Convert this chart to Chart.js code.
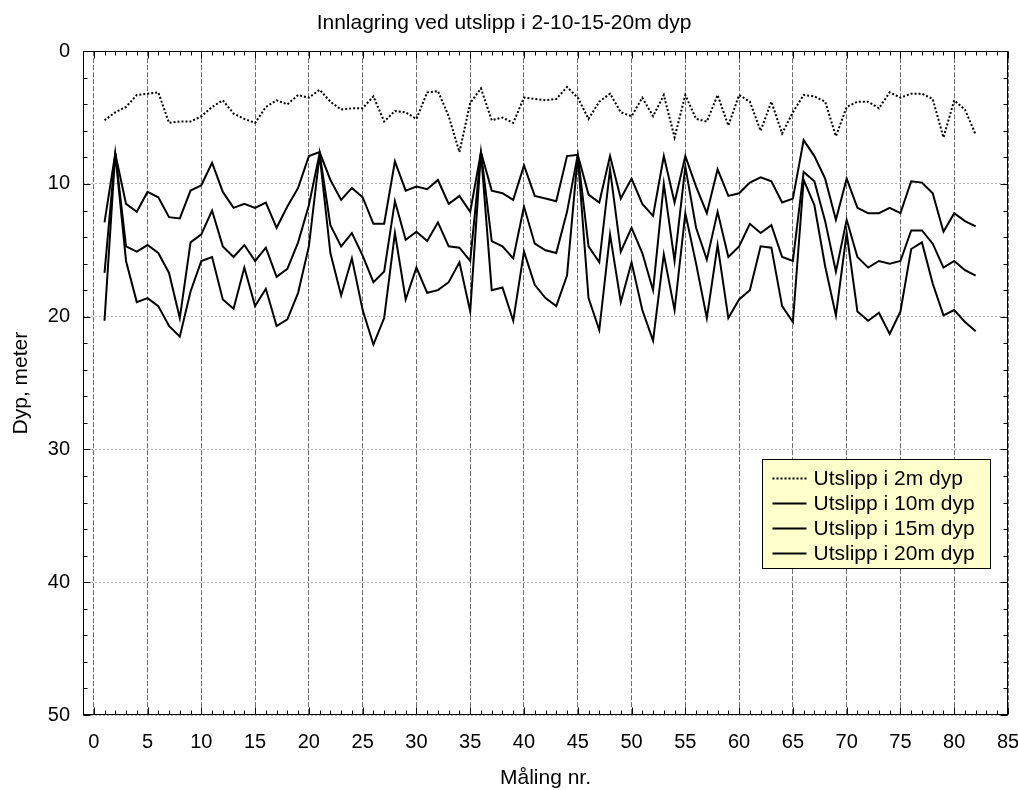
<!DOCTYPE html>
<html>
<head>
<meta charset="utf-8">
<title>Innlagring ved utslipp</title>
<script src="https://cdn.jsdelivr.net/npm/chart.js@4.4.1/dist/chart.umd.min.js"></script>
<style>
  html, body { margin: 0; padding: 0; background: #fff; }
</style>
</head>
<body>
<canvas id="chart" width="1018" height="790"></canvas>
<script>
// tekster
const tittel = 'Innlagring ved utslipp i 2-10-15-20m dyp';
const xTittel = 'Måling nr.';
const yTittel = 'Dyp, meter';
const serieNavn = ['Utslipp i 2m dyp', 'Utslipp i 10m dyp', 'Utslipp i 15m dyp', 'Utslipp i 20m dyp'];

// måling nr. (x)
const malingNr = [
  1, 2, 3, 4, 5, 6, 7, 8, 9, 10, 11, 12, 13, 14, 15, 16, 17, 18, 19, 20,
  21, 22, 23, 24, 25, 26, 27, 28, 29, 30, 31, 32, 33, 34, 35, 36, 37, 38, 39, 40,
  41, 42, 43, 44, 45, 46, 47, 48, 49, 50, 51, 52, 53, 54, 55, 56, 57, 58, 59, 60,
  61, 62, 63, 64, 65, 66, 67, 68, 69, 70, 71, 72, 73, 74, 75, 76, 77, 78, 79, 80,
  81, 82
];

// dyp i meter, lest av figuren
const utslipp2m = [
  5.2, 4.6, 4.2, 3.3, 3.2, 3.1, 5.4, 5.3, 5.3, 4.9, 4.2, 3.7, 4.7, 5.1, 5.4, 4.2, 3.7, 4.0, 3.3, 3.5,
  2.9, 3.8, 4.4, 4.3, 4.3, 3.4, 5.3, 4.5, 4.6, 5.1, 3.1, 3.0, 4.9, 7.6, 3.9, 2.8, 5.2, 5.0, 5.4, 3.5,
  3.6, 3.7, 3.6, 2.7, 3.5, 5.1, 3.8, 3.2, 4.6, 4.9, 3.5, 4.9, 3.3, 6.5, 3.3, 5.1, 5.3, 3.3, 5.6, 3.3,
  3.8, 6.0, 3.8, 6.2, 4.6, 3.3, 3.4, 3.8, 6.4, 4.2, 3.8, 3.8, 4.3, 3.1, 3.5, 3.2, 3.2, 3.6, 6.5, 3.7,
  4.4, 6.3
];
const utslipp10m = [
  12.9, 7.7, 11.5, 12.1, 10.6, 11.0, 12.5, 12.6, 10.5, 10.1, 8.4, 10.6, 11.8, 11.5, 11.8, 11.4, 13.3, 11.7, 10.3, 7.9,
  7.6, 9.7, 11.2, 10.3, 11.0, 13.0, 13.0, 8.3, 10.5, 10.2, 10.4, 9.7, 11.5, 10.9, 12.1, 7.6, 10.5, 10.7, 11.2, 8.6,
  10.9, 11.1, 11.3, 7.9, 7.8, 10.8, 11.4, 7.9, 11.1, 9.6, 11.5, 12.4, 7.9, 11.4, 7.9, 10.2, 12.2, 8.9, 10.9, 10.7,
  9.9, 9.5, 9.8, 11.4, 11.1, 6.7, 7.9, 9.6, 12.7, 9.6, 11.8, 12.2, 12.2, 11.8, 12.2, 9.8, 9.9, 10.7, 13.6, 12.2,
  12.8, 13.2
];
const utslipp15m = [
  16.7, 7.7, 14.7, 15.1, 14.6, 15.2, 16.7, 20.1, 14.4, 13.8, 12.0, 14.7, 15.5, 14.6, 15.8, 14.8, 17.0, 16.4, 14.4, 11.6,
  7.7, 13.1, 14.7, 13.7, 15.4, 17.4, 16.6, 11.3, 14.2, 13.6, 14.3, 12.9, 14.7, 14.8, 15.8, 7.6, 14.3, 14.7, 15.6, 11.7,
  14.5, 15.0, 15.2, 12.1, 7.8, 14.7, 15.9, 8.9, 15.1, 13.3, 15.2, 18.0, 10.0, 15.8, 8.7, 13.3, 15.7, 12.1, 15.5, 14.7,
  13.0, 13.7, 13.1, 15.5, 15.8, 9.1, 9.8, 12.8, 16.6, 12.7, 15.5, 16.3, 15.8, 16.0, 15.8, 13.5, 13.5, 14.5, 16.3, 15.8,
  16.5, 16.9
];
const utslipp20m = [
  20.3, 7.7, 15.8, 18.9, 18.6, 19.2, 20.7, 21.5, 18.1, 15.8, 15.5, 18.7, 19.4, 16.3, 19.2, 17.9, 20.7, 20.2, 18.2, 14.7,
  7.8, 15.2, 18.4, 15.6, 19.5, 22.1, 20.1, 13.7, 18.7, 16.3, 18.2, 18.0, 17.4, 15.9, 19.6, 7.6, 18.0, 17.8, 20.3, 15.1,
  17.6, 18.6, 19.2, 16.9, 7.9, 18.6, 21.0, 13.8, 18.9, 15.9, 19.5, 21.8, 15.3, 19.5, 12.2, 16.0, 20.1, 14.6, 20.1, 18.7,
  18.0, 14.7, 14.8, 19.2, 20.4, 9.7, 11.6, 16.2, 19.9, 13.7, 19.6, 20.3, 19.7, 21.3, 19.6, 14.9, 14.4, 17.5, 19.9, 19.5,
  20.4, 21.1
];

// akseverdier
const xTicks = [0, 5, 10, 15, 20, 25, 30, 35, 40, 45, 50, 55, 60, 65, 70, 75, 80, 85];
const yTicks = [0, 10, 20, 30, 40, 50];

const fontFam = "'Liberation Sans', Arial, Helvetica, sans-serif";
Chart.defaults.font.family = fontFam;
Chart.defaults.color = '#000';

function punkter(serie) {
  return malingNr.map((m, i) => ({ x: m, y: serie[i] }));
}

// ramme med tikker innover + egen forklaring nede til høyre
const rammePlugin = {
  id: 'ramme',
  afterDraw(chart) {
    const { ctx, chartArea: a, scales: { x, y } } = chart;
    const L = Math.round(a.left) + 0.5, R = Math.round(a.right) - 0.5;
    const T = Math.round(a.top) + 0.5, B = Math.round(a.bottom) - 0.5;
    ctx.save();
    ctx.strokeStyle = '#000';
    ctx.lineWidth = 1;
    ctx.beginPath();
    // små tikker langs x (hver 1), store ved xTicks
    for (let v = 0; v <= 85; v++) {
      const px = Math.round(x.getPixelForValue(v)) + 0.5;
      const len = xTicks.includes(v) ? 7 : 4;
      ctx.moveTo(px, B); ctx.lineTo(px, B - len);
      ctx.moveTo(px, T); ctx.lineTo(px, T + len);
    }
    // små tikker langs y (hver 2)
    for (let v = 0; v <= 50; v += 2) {
      const py = Math.round(y.getPixelForValue(v)) + 0.5;
      const len = yTicks.includes(v) ? 7 : 4;
      ctx.moveTo(L, py); ctx.lineTo(L + len, py);
      ctx.moveTo(R, py); ctx.lineTo(R - len, py);
    }
    ctx.stroke();
    ctx.strokeRect(L, T, R - L, B - T);

    // forklaring
    const bx = Math.round(a.right) - 246 + 0.5;
    const by = Math.round(a.bottom) - 256 + 0.5;
    const bw = 228, bh = 109;
    ctx.fillStyle = '#ffffcc';
    ctx.fillRect(bx, by, bw, bh);
    ctx.strokeStyle = '#000';
    ctx.lineWidth = 1;
    ctx.strokeRect(bx, by, bw, bh);
    ctx.font = '21px ' + fontFam;
    ctx.textBaseline = 'middle';
    ctx.textAlign = 'left';
    chart.data.datasets.forEach((ds, i) => {
      const cy = by + 19 + i * 25;
      ctx.save();
      ctx.strokeStyle = ds.borderColor;
      ctx.lineWidth = ds.borderWidth;
      ctx.setLineDash(ds.borderDash || []);
      ctx.beginPath();
      ctx.moveTo(bx + 10, cy);
      ctx.lineTo(bx + 44, cy);
      ctx.stroke();
      ctx.restore();
      ctx.fillStyle = '#000';
      ctx.fillText(ds.label, bx + 51, cy + 1);
    });
    ctx.restore();
  }
};

const ctx = document.getElementById('chart').getContext('2d');
new Chart(ctx, {
  type: 'line',
  data: {
    datasets: [
      { label: serieNavn[0], data: punkter(utslipp2m), borderColor: '#000', borderWidth: 2, borderDash: [2, 2] },
      { label: serieNavn[1], data: punkter(utslipp10m), borderColor: '#000', borderWidth: 2 },
      { label: serieNavn[2], data: punkter(utslipp15m), borderColor: '#000', borderWidth: 2 },
      { label: serieNavn[3], data: punkter(utslipp20m), borderColor: '#000', borderWidth: 2 }
    ]
  },
  options: {
    responsive: false,
    animation: false,
    layout: { padding: { left: 0, right: 10, top: 0, bottom: 0 } },
    elements: { point: { radius: 0 }, line: { tension: 0, fill: false } },
    plugins: {
      legend: { display: false },
      tooltip: { enabled: false },
      title: {
        display: true,
        text: tittel,
        color: '#000',
        font: { size: 21, weight: 'normal', lineHeight: 1.2 },
        padding: { top: 11, bottom: 15 }
      }
    },
    scales: {
      x: {
        type: 'linear',
        min: -1,
        max: 85,
        afterBuildTicks: s => { s.ticks = xTicks.map(v => ({ value: v })); },
        afterFit: s => { s.height = 75; s.paddingLeft = 0; s.paddingRight = 0; },
        ticks: { font: { size: 20 }, padding: 15, maxRotation: 0, autoSkip: false },
        grid: { color: '#6e6e6e', lineWidth: 1, drawTicks: false },
        border: { display: false, dash: [5, 2] },
        title: { display: true, text: xTittel, font: { size: 21, lineHeight: 1.0 }, padding: { top: 0, bottom: 1 } }
      },
      y: {
        type: 'linear',
        reverse: true,
        min: 0,
        max: 50,
        afterBuildTicks: s => { s.ticks = yTicks.map(v => ({ value: v })); },
        afterFit: s => { s.width = 83; },
        ticks: { font: { size: 20 }, padding: 13 },
        grid: { color: '#b4b4b4', lineWidth: 1, drawTicks: false },
        border: { display: false, dash: [2, 2] },
        title: { display: true, text: yTittel, font: { size: 21, lineHeight: 1.0 }, padding: { top: 11, bottom: 0 } }
      }
    }
  },
  plugins: [rammePlugin]
});
</script>
</body>
</html>
